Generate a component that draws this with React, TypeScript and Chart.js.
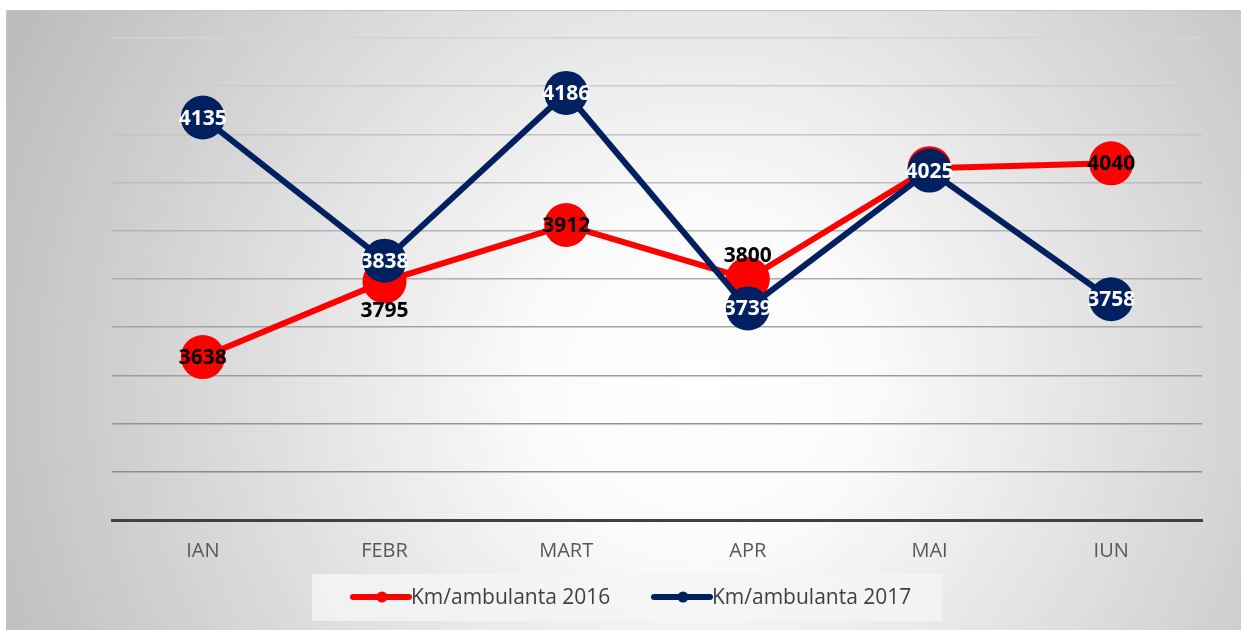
import React, { useEffect, useRef } from "react";
import { Chart, registerables } from "chart.js";

Chart.register(...registerables);

const categories = ["IAN", "FEBR", "MART", "APR", "MAI", "IUN"];
const series2016 = [3638, 3795, 3912, 3800, 4030, 4040];
const series2017 = [4135, 3838, 4186, 3739, 4025, 3758];
const seriesNames = ["Km/ambulanta 2016", "Km/ambulanta 2017"];
const yMin = 3300;
const yMax = 4300;
const yStep = 100;

// label placement for 2016 series ("center" | "above" | "below" | "none")
const labelPos2016 = ["center", "below", "center", "above", "none", "center"];

const RED = "#ff0000";
const BLUE = "#002060";
const FONT = "'Open Sans', 'Noto Sans', sans-serif";

const W = 1241;
const H = 630;

const bgPlugin = {
  id: "bgPlugin",
  beforeDraw(chart: any) {
    const ctx = chart.ctx;
    ctx.save();
    ctx.fillStyle = "#ffffff";
    ctx.fillRect(0, 0, W, H);
    const g = ctx.createRadialGradient(700, 380, 0, 700, 380, 760);
    g.addColorStop(0, "#ffffff");
    g.addColorStop(0.22, "#fbfbfb");
    g.addColorStop(1, "#bdbdbd");
    ctx.fillStyle = g;
    ctx.fillRect(7, 11, W - 7, H - 11);
    ctx.strokeStyle = "#c4c4c4";
    ctx.lineWidth = 1;
    ctx.beginPath();
    ctx.moveTo(6.5, H);
    ctx.lineTo(6.5, 10.5);
    ctx.lineTo(W, 10.5);
    ctx.stroke();
    ctx.restore();
  },
};

const labelPlugin = {
  id: "labelPlugin",
  afterDatasetsDraw(chart: any) {
    const ctx = chart.ctx;
    ctx.save();
    ctx.font = `bold 21px ${FONT}`;
    ctx.textAlign = "center";
    ctx.textBaseline = "middle";
    const m0 = chart.getDatasetMeta(0);
    m0.data.forEach((pt: any, i: number) => {
      const pos = labelPos2016[i];
      if (pos === "none") return;
      let y = pt.y;
      if (pos === "above") y -= 24;
      if (pos === "below") y += 29;
      ctx.fillStyle = "#000000";
      ctx.fillText(String(series2016[i]), pt.x, y + 1);
    });
    const m1 = chart.getDatasetMeta(1);
    m1.data.forEach((pt: any, i: number) => {
      ctx.fillStyle = "#ffffff";
      ctx.fillText(String(series2017[i]), pt.x, pt.y + 1);
    });
    ctx.restore();
  },
};

const legendPlugin = {
  id: "legendPlugin",
  afterDraw(chart: any) {
    const ctx = chart.ctx;
    ctx.save();
    ctx.fillStyle = "rgba(245,245,245,0.85)";
    ctx.fillRect(312, 574, 630, 47);
    const items = [
      { color: RED, x: 353, name: seriesNames[0] },
      { color: BLUE, x: 654, name: seriesNames[1] },
    ];
    const cy = 597;
    items.forEach((it) => {
      ctx.strokeStyle = it.color;
      ctx.lineWidth = 6;
      ctx.lineCap = "round";
      ctx.beginPath();
      ctx.moveTo(it.x, cy);
      ctx.lineTo(it.x + 56, cy);
      ctx.stroke();
      ctx.fillStyle = it.color;
      ctx.beginPath();
      ctx.arc(it.x + 29, cy, 5.5, 0, Math.PI * 2);
      ctx.fill();
      ctx.fillStyle = "#404040";
      ctx.font = `21px ${FONT}`;
      ctx.textAlign = "left";
      ctx.textBaseline = "middle";
      ctx.fillText(it.name, it.x + 58, cy + 1);
    });
    ctx.restore();
  },
};

export default function App() {
  const ref = useRef<HTMLCanvasElement>(null);
  useEffect(() => {
    if (!ref.current) return;
    const chart = new Chart(ref.current, {
      type: "line",
      data: {
        labels: categories,
        datasets: [
          {
            label: seriesNames[0],
            data: series2016,
            borderColor: RED,
            backgroundColor: RED,
            borderWidth: 6,
            pointRadius: 22,
            pointBorderWidth: 0,
            pointBackgroundColor: RED,
            tension: 0,
            order: 1,
            clip: false as any,
          },
          {
            label: seriesNames[1],
            data: series2017,
            borderColor: BLUE,
            backgroundColor: BLUE,
            borderWidth: 6,
            pointRadius: 22,
            pointBorderWidth: 0,
            pointBackgroundColor: BLUE,
            tension: 0,
            order: 0,
            clip: false as any,
          },
        ],
      },
      options: {
        responsive: false,
        animation: false,
        devicePixelRatio: 1,
        layout: { padding: { left: 112, right: 39, top: 38, bottom: 48 } },
        plugins: {
          legend: { display: false },
          tooltip: { enabled: false },
        },
        scales: {
          x: {
            offset: true,
            grid: { display: false, drawTicks: false },
            border: { display: true, color: "#404040", width: 3 },
            ticks: {
              color: "#595959",
              font: { family: FONT, size: 20 },
              padding: 19,
            },
          },
          y: {
            min: yMin,
            max: yMax,
            ticks: { display: false, stepSize: yStep },
            border: { display: false },
            grid: {
              drawTicks: false,
              lineWidth: 1.5,
              color: (c: any) => {
                const idx = c.index ?? 0;
                if (idx === 0) return "rgba(0,0,0,0)";
                const t = (idx - 1) / 9;
                const v = Math.round(140 + t * (212 - 140));
                return `rgb(${v},${v},${v})`;
              },
            },
          },
        },
      },
      plugins: [bgPlugin, labelPlugin, legendPlugin],
    });
    return () => chart.destroy();
  }, []);
  return (
    <div style={{ position: "fixed", left: 0, top: 0, width: W, height: H }}>
      <canvas ref={ref} width={W} height={H} style={{ display: "block" }} />
    </div>
  );
}
